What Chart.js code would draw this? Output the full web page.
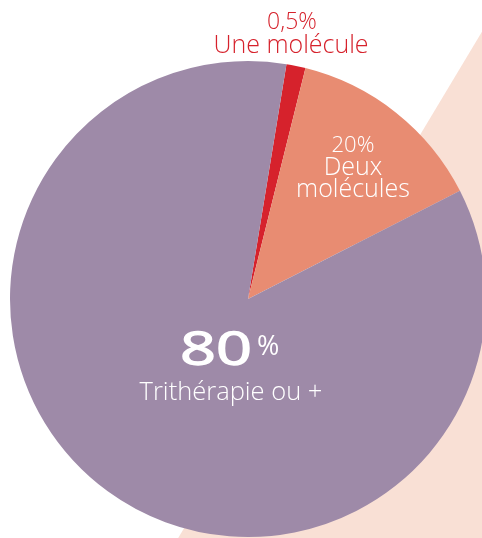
<!DOCTYPE html>
<html>
<head>
<meta charset="utf-8">
<script src="https://cdn.jsdelivr.net/npm/chart.js@4.4.1/dist/chart.umd.min.js"></script>
<style>
  html, body { margin: 0; padding: 0; background: #fff; overflow: hidden; }
  #wrap { position: absolute; left: 0; top: 0; width: 496px; height: 538px; }
</style>
</head>
<body>
<div id="wrap"><canvas id="c"></canvas></div>
<script>
const CATEGORIES = ['Une molécule', 'Deux molécules', 'Trithérapie ou +'];
const SHARE_LABELS = ['0,5%', '20%', '80%'];
// share of the circle each slice takes in the picture (the drawn arcs, not the printed %)
const SLICE_VALUES = [1.3, 13.6, 85.1];
const SLICE_COLORS = ['#D6222C', '#E88C72', '#9E8AA8'];
const PEACH = '#F9E0D5';
const FONT = "'Open Sans', sans-serif";

// peach band behind the pie, on the right
const backdrop = {
  id: 'backdrop',
  beforeDraw(chart) {
    const { ctx } = chart;
    ctx.save();
    ctx.fillStyle = PEACH;
    ctx.beginPath();
    ctx.moveTo(495, 10);
    ctx.lineTo(177, 540);
    ctx.lineTo(500, 540);
    ctx.lineTo(500, 10);
    ctx.closePath();
    ctx.fill();
    ctx.restore();
  },
};

function txt(ctx, s, x, y, size, color, weight, align) {
  ctx.font = (weight || 300) + ' ' + size + 'px ' + FONT;
  ctx.fillStyle = color;
  ctx.textAlign = align || 'center';
  ctx.textBaseline = 'alphabetic';
  ctx.fillText(s, x, y);
}

// labels placed relative to the pie centre
const sliceLabels = {
  id: 'sliceLabels',
  afterDatasetsDraw(chart) {
    const { ctx } = chart;
    const arc = chart.getDatasetMeta(0).data[0];
    const cx = arc.x, cy = arc.y;
    ctx.save();
    // Une molécule (outside, above)
    txt(ctx, SHARE_LABELS[0], cx + 44, cy - 270, 23, SLICE_COLORS[0]);
    txt(ctx, CATEGORIES[0], cx + 43, cy - 246, 25, SLICE_COLORS[0]);
    // Deux molécules
    txt(ctx, SHARE_LABELS[1], cx + 105, cy - 147, 22, '#fff');
    txt(ctx, 'Deux', cx + 105, cy - 124, 25, '#fff');
    txt(ctx, 'molécules', cx + 105, cy - 102, 25, '#fff');
    // Trithérapie ou +  (big figure, slightly widened and thickened)
    const big = SHARE_LABELS[2].replace('%', '');
    ctx.font = '400 45px ' + FONT;
    const w = ctx.measureText(big).width;
    ctx.save();
    ctx.translate(cx - 68, cy + 66);
    ctx.scale(72 / w, 1);
    txt(ctx, big, 0, 0, 45, '#fff', 400, 'left');
    ctx.strokeStyle = '#fff';
    ctx.lineWidth = 1.3;
    ctx.strokeText(big, 0, 0);
    ctx.restore();
    txt(ctx, '%', cx + 9, cy + 56, 27, '#fff', 400, 'left');
    txt(ctx, CATEGORIES[2], cx - 17, cy + 101, 25.5, '#fff');
    ctx.restore();
  },
};

new Chart(document.getElementById('c'), {
  type: 'pie',
  data: {
    labels: CATEGORIES,
    datasets: [{
      data: SLICE_VALUES,
      backgroundColor: SLICE_COLORS,
      borderWidth: 0,
      hoverOffset: 0,
    }],
  },
  options: {
    responsive: true, maintainAspectRatio: false,
    animation: false,
    rotation: 9.3,
    layout: { padding: { top: 61, bottom: 1, left: 10, right: 10 } },
    plugins: { legend: { display: false }, tooltip: { enabled: false } },
  },
  plugins: [backdrop, sliceLabels],
});
</script>
</body>
</html>
